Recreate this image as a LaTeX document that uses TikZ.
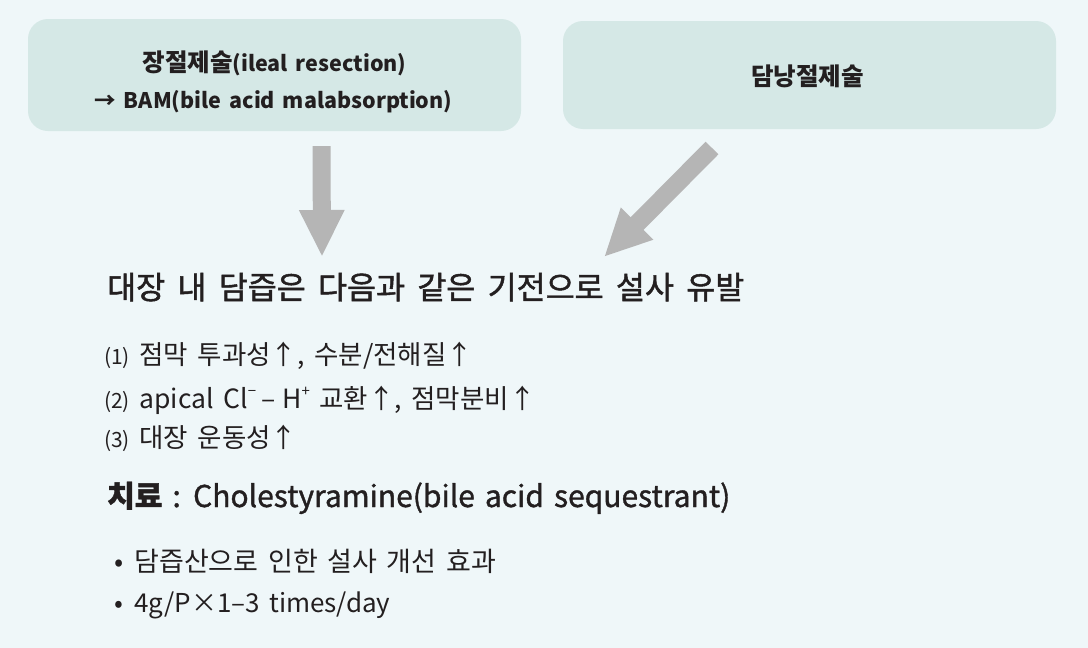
\documentclass[tikz,border=0pt]{standalone}
\usepackage{fontspec}
\setmainfont{Noto Sans CJK KR}[WordSpace=1.6]
\newfontfamily\headfont{Noto Sans CJK KR}[WordSpace=1.75,FakeBold=1.5]
\newfontfamily\medfont{Noto Sans CJK KR}[WordSpace=1.5,FakeBold=1.2]
\usetikzlibrary{arrows.meta}
\definecolor{bgc}{HTML}{EFF7F9}
\definecolor{boxc}{HTML}{D5E8E6}
\definecolor{arrc}{HTML}{B5B5B5}
\definecolor{txtc}{HTML}{231F20}
\tikzset{
  boxst/.style={fill=boxc, draw=none, rounded corners=20pt, inner sep=0pt},
  boxtext/.style={anchor=base, text=txtc, inner sep=0pt, font=\fontsize{21.5}{21.5}\selectfont\bfseries},
  bodytext/.style={anchor=base west, text=txtc, inner sep=0pt},
  bigarrow/.style={draw=arrc, line width=18pt, -{Triangle[width=42pt,length=47pt]}}
}
\newcommand{\numlbl}[1]{{\fontsize{21}{21}\selectfont(#1)}}
\newcommand{\hkbig}[1]{{\fontsize{24.5}{24.5}\selectfont #1}}
\newcommand{\supsign}[1]{\raisebox{0.45em}{\fontsize{15}{15}\selectfont #1}}
\begin{document}
\begin{tikzpicture}[x=1pt,y=-1pt]
\path[use as bounding box, fill=bgc] (0,0) rectangle (1088,648);
% boxes
\node[boxst, minimum width=493pt, minimum height=112pt] (box1) at (274.5,75) {};
\node[boxst, minimum width=493pt, minimum height=108pt] (box2) at (809.5,75) {};
\node[boxtext] (t1a) at (274.5,71) {\hkbig{장절제술}(ileal resection)};
\node[boxtext] (t1b) at (273.5,108) {→ BAM(bile acid malabsorption)};
\node[boxtext, font=\fontsize{24.5}{24.5}\selectfont\bfseries] (t2) at (807.5,85) {담낭절제술};
% heading
\node[bodytext, font=\headfont\fontsize{31.5}{31.5}\selectfont] (head) at (107,299) {대장 내 담즙은 다음과 같은 기전으로 설사 유발};
% arrows
\coordinate (a1s) at ([yshift=-15pt]box1.south -| 321.5,0);
\coordinate (a1e) at (322,257);
\draw[bigarrow] (a1s) -- (a1e);
\coordinate (a2s) at (712,148);
\coordinate (a2e) at (604,257);
\draw[bigarrow] (a2s) -- (a2e);
% items
\node[bodytext, font=\fontsize{26.5}{26.5}\selectfont] (i1) at (104,364) {\numlbl{1} 점막 투과성↑, 수분/전해질↑};
\node[bodytext, font=\fontsize{26.5}{26.5}\selectfont] (i2) at (104,408) {\numlbl{2} apical Cl\supsign{−}\hspace{5pt}–\hspace{7pt}H\supsign{+} 교환↑, 점막분비↑};
\node[bodytext, font=\fontsize{26.5}{26.5}\selectfont] (i3) at (104,447) {\numlbl{3} 대장 운동성↑};
% treatment
\node[bodytext, font=\medfont\fontsize{30}{30}\selectfont] (tx) at (107,507) {\textbf{치료} : Cholestyramine(bile acid sequestrant)};
\node[bodytext, font=\fontsize{27}{27}\selectfont] (b1) at (114,571) {•\hspace{11pt}담즙산으로 인한 설사 개선 효과};
\node[bodytext, font=\fontsize{26}{26}\selectfont] (b2) at (114,612) {•\hspace{11pt}4g/P×1–3 times/day};
\end{tikzpicture}
\end{document}
